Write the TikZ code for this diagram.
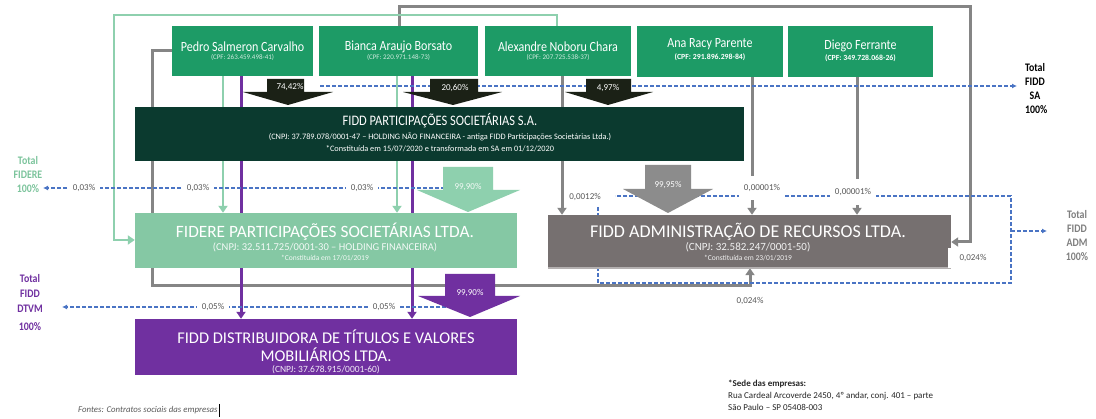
\documentclass[tikz,border=0pt]{standalone}
\usepackage{fontspec}
\setmainfont{Carlito}
\newfontfamily\cond{Carlito}[FakeStretch=0.86]
\usetikzlibrary{arrows.meta}
\definecolor{pgreen}{HTML}{1D9B66}
\definecolor{sadark}{HTML}{0B3A2F}
\definecolor{arrdark}{HTML}{1B2116}
\definecolor{fgreen}{HTML}{85C8A4}
\definecolor{lgreen}{HTML}{8ED0AE}
\definecolor{admgrey}{HTML}{767070}
\definecolor{lgrey}{HTML}{858585}
\definecolor{agrey}{HTML}{8C8C8C}
\definecolor{dpurple}{HTML}{7030A0}
\definecolor{dblue}{HTML}{4A74C4}
\definecolor{pctgrey}{HTML}{595959}
\definecolor{totgreen}{HTML}{7CC49C}
\definecolor{totgrey}{HTML}{7F7F7F}
\newcommand\fs[1]{\fontsize{#1}{#1}\selectfont}
\begin{document}
\begin{tikzpicture}[x=1pt,y=-1pt,
  pbox/.style={fill=pgreen, inner sep=0, minimum height=50},
  cbox/.style={fill=#1, inner sep=0},
  txt/.style={inner sep=0, text=white, align=center},
  gline/.style={draw=lgrey, line width=3pt, -{Triangle[width=9pt,length=7pt]}},
  grline/.style={draw=lgreen, line width=2.6pt, -{Triangle[width=9pt,length=7pt]}},
  puline/.style={draw=dpurple, line width=3pt, -{Triangle[width=9pt,length=7pt]}},
  dline/.style={draw=dblue, line width=1.1pt, dash pattern=on 4pt off 2pt, -{Latex[length=5pt,width=5pt]}},
  dplain/.style={draw=dblue, line width=1.1pt, dash pattern=on 4pt off 2pt},
  pct/.style={fill=white, text=pctgrey, font=\fs{9}, inner xsep=5pt, inner ysep=4pt},
  arrlbl/.style={text=white, font=\fs{9}, inner sep=0},
  tot/.style={align=center, font=\cond\bfseries\fontsize{11.5}{14}\selectfont, inner sep=0},
]
\useasboundingbox (0,0) rectangle (1096,419);
\fill[white] (0,0) rectangle (1096,419);

% ---------- boxes (defined first for anchors, drawn later on top) ----------
\path
  node[pbox, minimum width=141] (pedro) at (242.5,51) {}
  node[pbox, minimum width=159] (bianca) at (398.5,51) {}
  node[pbox, minimum width=146] (alex) at (558,51) {}
  node[pbox, minimum width=146, minimum height=51] (ana) at (710,51.5) {}
  node[pbox, minimum width=145, minimum height=51] (diego) at (860.5,51.5) {}
  node[cbox=sadark, minimum width=609, minimum height=54] (sa) at (439.5,134) {}
  node[cbox=fgreen, minimum width=382, minimum height=55] (fidere) at (326,240.5) {}
  node[cbox=admgrey, minimum width=403, minimum height=53] (adm) at (749.5,241.5) {}
  node[cbox=dpurple, minimum width=382, minimum height=56] (dtvm) at (326,347) {};

% ---------- connectors ----------
\draw[gline] (pedro.west) -- (152,51) -- (152,286) -- (750,286) -- (750,0 |- adm.south);
\draw[gline] (399,0 |- bianca.north) -- (399,7) -- (970,7) -- (970,242) -- (adm.east |- 0,242);
\draw[grline] (557,0 |- alex.north) -- (557,15) -- (114,15) -- (114,240) -- (fidere.west |- 0,240);
\draw[grline] (223,0 |- pedro.south) -- (223,0 |- fidere.north);
\draw[grline] (397,0 |- bianca.south) -- (397,0 |- fidere.north);
\draw[puline] (241,0 |- pedro.south) -- (241,0 |- dtvm.north);
\draw[puline] (412,0 |- bianca.south) -- (412,0 |- dtvm.north);
\draw[gline] (562,0 |- alex.south) -- (562,0 |- adm.north);
\draw[gline] (752,0 |- ana.south) -- (752,0 |- adm.north);
\draw[gline] (857,0 |- diego.south) -- (857,0 |- adm.north);

% ---------- dashed totals ----------
\coordinate (saT) at (1017,86);
\coordinate (fiT) at (43,188);
\coordinate (dtT) at (62,307);
\coordinate (adT) at (1047,231);
\draw[dline] (320,86) -- (saT);
\draw[dline] (445,188) -- (fiT);
\draw[dline] (470,307) -- (dtT);
\draw[dplain] (598,207) -- (598,283) -- (1011,283) -- (1011,196) -- (615,196);
\draw[dline] (1011,231) -- (adT);

% ---------- percentage labels ----------
\node[pct] (p1) at (84,188) {0,03\%};
\node[pct] (p2) at (198,188) {0,03\%};
\node[pct] (p3) at (362,188) {0,03\%};
\node[pct, inner xsep=3pt] (p4) at (585,197) {0,0012\%};
\node[pct, inner ysep=8pt] (p5) at (762,188) {0,00001\%};
\node[pct, inner ysep=9pt] (p6) at (853,192) {0,00001\%};
\node[pct] (p7) at (750,301) {0,024\%};
\node[pct] (p9) at (213,307) {0,05\%};
\node[pct] (p10) at (384,307) {0,05\%};

% ---------- boxes drawn on top ----------
\foreach \b/\c in {pedro/pgreen,bianca/pgreen,alex/pgreen,ana/pgreen,diego/pgreen,sa/sadark,fidere/fgreen,adm/admgrey,dtvm/dpurple}
  \fill[\c] (\b.north west) rectangle (\b.south east);
\draw[admgrey!55!white, line width=1.5pt] (adm.south west) -- (adm.south east);
\node[pct, inner sep=0, minimum width=50, minimum height=20] (p8) at (973,258) {0,024\%};

% ---------- big arrows ----------
\fill[arrdark] (267,79) -- (304,79) -- (304,92) -- (333,92) -- (288,105) -- (243,92) -- (267,92) -- cycle;
\fill[arrdark] (430,79) -- (478,79) -- (478,92) -- (502,92) -- (453,105) -- (403,92) -- (430,92) -- cycle;
\fill[arrdark] (586,79) -- (631,79) -- (631,92) -- (653,92) -- (608,105) -- (565,92) -- (586,92) -- cycle;
\fill[lgreen] (443,167) -- (493,167) -- (493,190) -- (520,190) -- (468,212) -- (417,190) -- (443,190) -- cycle;
\fill[agrey] (645,165) -- (691,165) -- (691,189) -- (713,189) -- (668,213) -- (623,189) -- (645,189) -- cycle;
\fill[dpurple] (445,274) -- (495,274) -- (495,296) -- (520,296) -- (470,317) -- (418,296) -- (445,296) -- cycle;
\node[arrlbl] (a1) at (290,87) {74,42\%};
\node[arrlbl] (a2) at (455,88) {20,60\%};
\node[arrlbl] (a3) at (608,88) {4,97\%};
\node[arrlbl, text=white!90!lgreen] (a4) at (468,187) {99,90\%};
\node[arrlbl] (a5) at (668,185) {99,95\%};
\node[arrlbl] (a6) at (470,293) {99,90\%};

% ---------- texts in boxes ----------
\node[txt] (pedro-n) at (242.5,46.5) {\cond\fs{14}Pedro Salmeron Carvalho};
\node[txt, text=white!80!pgreen] (pedro-c) at (242.5,57.5) {\fs{7}(CPF: 263.459.498-41)};
\node[txt] (bianca-n) at (398.5,47) {\cond\fs{14}Bianca Araujo Borsato};
\node[txt, text=white!80!pgreen] (bianca-c) at (398.5,57.5) {\fs{7}(CPF: 220.971.148-73)};
\node[txt] (alex-n) at (558,46.5) {\cond\fs{14}Alexandre Noboru Chara};
\node[txt, text=white!80!pgreen] (alex-c) at (558,57.5) {\fs{7}(CPF: 207.725.538-37)};
\node[txt] (ana-n) at (710,44) {\cond\fs{14}Ana Racy Parente};
\node[txt] (ana-c) at (710,57) {\bfseries\fs{7.8}(CPF: 291.896.298-84)};
\node[txt] (diego-n) at (860.5,46) {\cond\fs{14}Diego Ferrante};
\node[txt] (diego-c) at (860.5,58) {\bfseries\fs{7.8}(CPF: 349.728.068-26)};

\node[txt] (sa-t) at (440,121) {\cond\fs{14.5}FIDD PARTICIPAÇÕES SOCIETÁRIAS S.A.};
\node[txt] (sa-c) at (440,136.5) {\fs{8.3}(CNPJ: 37.789.078/0001-47 – HOLDING NÃO FINANCEIRA - antiga FIDD Participações Societárias Ltda.)};
\node[txt] (sa-d) at (440,148.5) {\fs{8.3}*Constituída em 15/07/2020 e transformada em SA em 01/12/2020};

\node[txt] (fi-t) at (325,232) {\fs{17.3}FIDERE PARTICIPAÇÕES SOCIETÁRIAS LTDA.};
\node[txt, text=white!90!fgreen] (fi-c) at (325,247.5) {\fs{10.5}(CNPJ: 32.511.725/0001-30 – HOLDING FINANCEIRA)};
\node[txt, text=white!90!fgreen] (fi-d) at (325,258) {\fs{7.5}*Constituída em 17/01/2019};

\node[txt] (ad-t) at (748,232) {\fs{18}FIDD ADMINISTRAÇÃO DE RECURSOS LTDA.};
\node[txt, text=white!90!admgrey] (ad-c) at (748,247.5) {\fs{11}(CNPJ: 32.582.247/0001-50)};
\node[txt, text=white!90!admgrey] (ad-d) at (748,258) {\fs{7.5}*Constituída em 23/01/2019};

\node[txt] (dt-t) at (326,337) {\fs{16.4}FIDD DISTRIBUIDORA DE TÍTULOS E VALORES};
\node[txt] (dt-t2) at (326,354.5) {\fs{16.4}MOBILIÁRIOS LTDA.};
\node[txt, text=white!90!dpurple] (dt-c) at (326,369.5) {\fs{9.5}(CNPJ: 37.678.915/0001-60)};

% ---------- totals ----------
\node[tot, text=black] (totsa) at (1035,89) {Total\\FIDD\\SA\\\ 100\%};
\node[tot, text=totgreen] (totfi) at (28,175) {Total\\FIDERE\\100\%};
\node[tot, text=dpurple, font=\cond\bfseries\fontsize{11.5}{15}\selectfont] (totdt) at (30,303) {Total\\FIDD\\DTVM\\[3pt]100\%};
\node[tot, text=totgrey] (totad) at (1077,235.5) {Total\\FIDD\\ADM\\100\%};

% ---------- notes ----------
\node[anchor=west, inner sep=0, text=pctgrey, font=\itshape\fs{8.8}] (src) at (78,410) {Fontes: Contratos sociais das empresas};
\draw[black, line width=0.6pt] ([xshift=1pt,yshift=6pt]src.east) -- ([xshift=1pt,yshift=-7pt]src.east);
\node[anchor=north west, align=left, inner sep=0, text=black!85, font=\fontsize{9}{12}\selectfont] (sede) at (728,380)
  {\textbf{*Sede das empresas:}\\Rua Cardeal Arcoverde 2450, 4º andar, conj. 401 – parte\\São Paulo – SP 05408-003};
\end{tikzpicture}
\end{document}
